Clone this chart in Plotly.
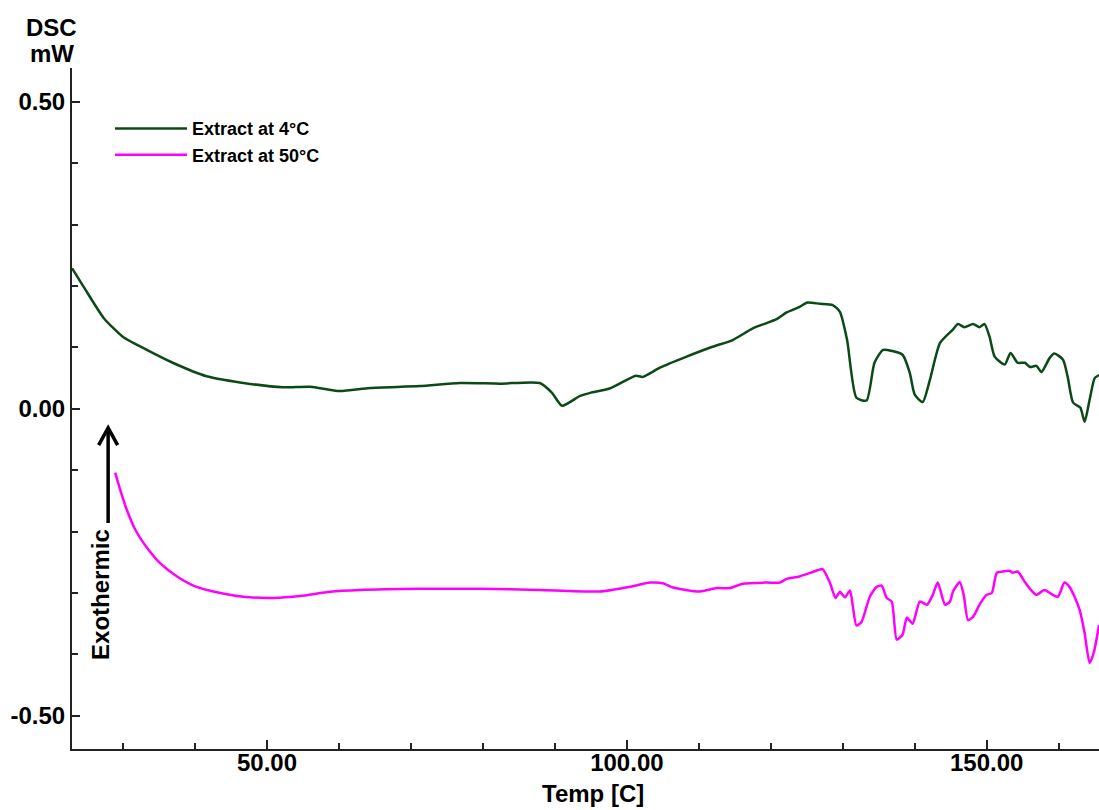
import plotly.graph_objects as go

# Extract at 4°C (green)
temp_4c = [22.9, 24.5, 27.3, 30.0, 33.3, 36.9, 41.6, 46.25, 52.2, 56.0, 60.1, 64.3, 71.25, 76.8, 82.4, 87.9,
           89.6, 91.0, 93.5, 94.9, 97.6, 101.25, 102.2, 104.6, 108.3, 111.9, 114.7, 117.5, 120.8, 122.2, 124.0,
           125.1, 126.8, 128.6, 129.6, 130.6, 131.9, 133.3, 134.4, 135.6, 136.9, 138.3, 139.3, 140.0, 141.1,
           142.1, 143.5, 145.3, 146.0, 146.9, 148.1, 149.0, 149.7, 150.4, 151.1, 152.5, 153.3, 154.3,
           155.3, 156.0, 156.9, 157.6, 158.75, 159.4, 160.6, 161.25, 162.0, 163.0, 163.6, 164.3, 165.0, 165.6]
dsc_4c = [0.229, 0.199, 0.148, 0.117, 0.096, 0.075, 0.053, 0.043, 0.035, 0.036, 0.029, 0.034, 0.037, 0.042, 0.041, 0.042,
          0.026, 0.005, 0.021, 0.026, 0.033, 0.054, 0.052, 0.067, 0.085, 0.101, 0.112, 0.131, 0.146, 0.157, 0.166,
          0.173, 0.171, 0.169, 0.158, 0.112, 0.018, 0.0135, 0.075, 0.096, 0.094, 0.088, 0.059, 0.023, 0.011,
          0.047, 0.107, 0.129, 0.138, 0.133, 0.138, 0.133, 0.138, 0.117, 0.085, 0.072, 0.091, 0.075,
          0.075, 0.068, 0.070, 0.060, 0.083, 0.090, 0.080, 0.052, 0.010, 0.002, -0.021, 0.015, 0.050, 0.055]

# Extract at 50°C (magenta)
temp_50c = [28.9, 29.6, 30.5, 31.7, 33.3, 35.1, 37.5, 40.2, 43.5, 46.7, 50.8, 54.6, 58.75, 62.9, 71.25, 79.6, 87.9,
            96.25, 100.8, 103.2, 105.0, 106.4, 110.1, 112.5, 114.3, 116.1, 119.4, 121.25, 122.2, 124.0, 126.5,
            127.2, 128.2, 129.0, 129.6, 130.3, 131.0, 131.4, 131.9, 132.6, 133.75, 134.7, 135.4, 136.1, 136.8,
            137.5, 138.3, 138.9, 139.7, 140.7, 141.7, 142.5, 143.2, 144.2, 144.9, 145.3, 146.25, 146.8, 147.4,
            148.1, 149.0, 150.0, 150.7, 151.4, 152.2, 153.2, 153.6, 154.3, 155.3, 156.0, 156.9, 158.0, 159.2,
            159.9, 160.8, 161.5, 162.2, 162.9, 163.6, 164.3, 164.9, 165.6]
dsc_50c = [-0.104, -0.132, -0.164, -0.197, -0.226, -0.251, -0.273, -0.290, -0.300, -0.306, -0.308, -0.305, -0.298, -0.295, -0.293, -0.293, -0.295,
           -0.2975, -0.289, -0.283, -0.284, -0.291, -0.2975, -0.292, -0.292, -0.285, -0.283, -0.283, -0.277, -0.273, -0.263,
           -0.261, -0.283, -0.308, -0.298, -0.307, -0.296, -0.322, -0.353, -0.347, -0.306, -0.290, -0.288, -0.308, -0.314,
           -0.376, -0.368, -0.340, -0.350, -0.314, -0.319, -0.303, -0.283, -0.319, -0.314, -0.298, -0.282, -0.303, -0.344,
           -0.339, -0.319, -0.303, -0.300, -0.267, -0.265, -0.264, -0.267, -0.265, -0.282, -0.293, -0.303, -0.295, -0.303,
           -0.306, -0.283, -0.290, -0.306, -0.327, -0.365, -0.414, -0.396, -0.352]

series_names = ["Extract at 4°C", "Extract at 50°C"]
series_colors = ["#0b4a17", "#ff00ff"]
x_tick_vals = [50, 100, 150]
y_tick_vals = [-0.5, 0.0, 0.5]

# "Exothermic" arrow annotation (data coordinates)
ARROW_X = 27.92
ARROW_TIP_Y = -0.031
ARROW_TAIL_Y = -0.186
ARROW_HALF_W = 1.32
ARROW_HEAD_DY = 0.028

FONT = "Liberation Sans, Arial, sans-serif"
BIG = 24

fig = go.Figure()
fig.add_trace(go.Scatter(x=temp_4c, y=dsc_4c, mode="lines", name=series_names[0],
                         line=dict(color=series_colors[0], width=2.5, shape="spline", smoothing=0.6)))
fig.add_trace(go.Scatter(x=temp_50c, y=dsc_50c, mode="lines", name=series_names[1],
                         line=dict(color=series_colors[1], width=2.5, shape="spline", smoothing=0.6)))

axis_common = dict(showgrid=False, zeroline=False, showline=True, linecolor="#222", linewidth=2,
                   tickmode="array", ticks="inside", tickwidth=1.5, tickcolor="#222", automargin=False,
                   tickfont=dict(family=FONT, size=BIG, color="black", weight="bold"))

fig.update_layout(
    width=1099, height=810,
    margin=dict(l=72, r=0, t=68, b=61),
    plot_bgcolor="white", paper_bgcolor="white",
    font=dict(family=FONT, color="black"),
    showlegend=True,
    legend=dict(x=0.037, y=0.938, xanchor="left", yanchor="top",
                font=dict(family=FONT, size=18, color="black", weight="bold"),
                bgcolor="rgba(0,0,0,0)", itemwidth=72, tracegroupgap=0),
    xaxis=dict(range=[22.9, 165.6], tickvals=x_tick_vals, ticktext=[f"{v:.2f}" for v in x_tick_vals],
               ticklen=9, ticklabelstandoff=-9,
               minor=dict(dtick=10, tick0=0, ticks="inside", ticklen=6, tickwidth=1.5, tickcolor="#222", showgrid=False),
               **axis_common),
    yaxis=dict(range=[-0.554, 0.555], tickvals=y_tick_vals, ticktext=[f"{v:.2f}" for v in y_tick_vals],
               ticklen=8,
               minor=dict(dtick=0.1, tick0=0, ticks="inside", ticklen=6, tickwidth=1.5, tickcolor="#222", showgrid=False),
               **axis_common),
)

fig.add_annotation(text="DSC", xref="paper", yref="paper", x=-0.0195, y=1.060,
                   showarrow=False, font=dict(family=FONT, size=BIG, color="black", weight="bold"),
                   xanchor="center", yanchor="middle")
fig.add_annotation(text="mW", xref="paper", yref="paper", x=-0.0195, y=1.022,
                   showarrow=False, font=dict(family=FONT, size=BIG, color="black", weight="bold"),
                   xanchor="center", yanchor="middle")
fig.add_annotation(text="Temp [C]", xref="paper", yref="paper", x=0.507, y=-0.0655,
                   showarrow=False, font=dict(family=FONT, size=BIG, color="black", weight="bold"),
                   xanchor="center", yanchor="middle")
fig.add_annotation(text="Exothermic", x=26.94, y=-0.303, xref="x", yref="y", textangle=-90,
                   showarrow=False, font=dict(family=FONT, size=BIG, color="black", weight="bold"),
                   xanchor="center", yanchor="middle")
# arrow shaft and open chevron head
fig.add_shape(type="line", xref="x", yref="y", x0=ARROW_X, x1=ARROW_X, y0=ARROW_TAIL_Y, y1=ARROW_TIP_Y - 0.002,
              line=dict(color="black", width=3.5))
fig.add_shape(type="path", xref="x", yref="y",
              path=(f"M{ARROW_X - ARROW_HALF_W},{ARROW_TIP_Y - ARROW_HEAD_DY} L{ARROW_X},{ARROW_TIP_Y} "
                    f"L{ARROW_X + ARROW_HALF_W},{ARROW_TIP_Y - ARROW_HEAD_DY}"),
              line=dict(color="black", width=3.5))

fig.write_html("out.html", config={"displayModeBar": False},
               post_script="document.body.style.margin='0px';document.body.style.overflow='hidden';")
